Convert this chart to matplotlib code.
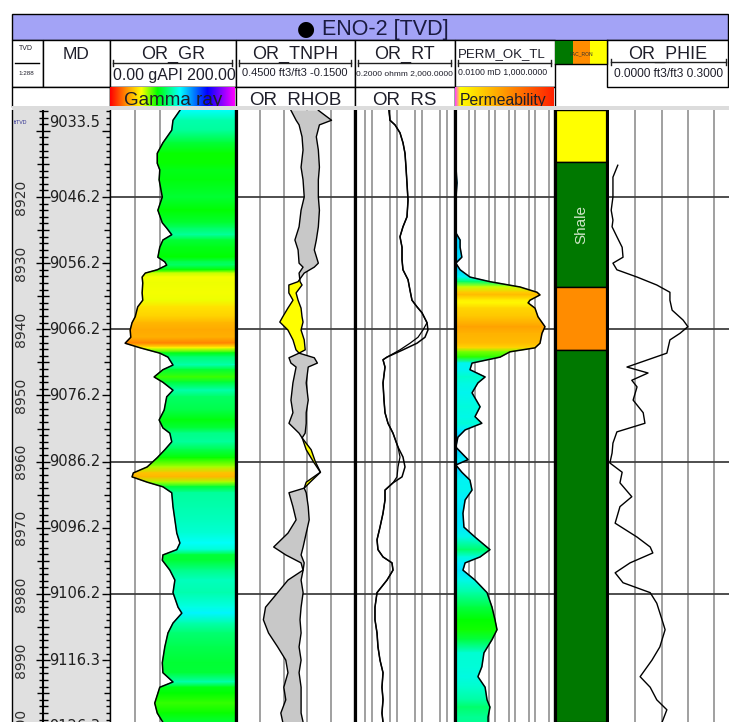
import numpy as np
import matplotlib
matplotlib.use("Agg")
import matplotlib.pyplot as plt
import matplotlib.tri as mtri
from matplotlib.colors import LinearSegmentedColormap
from matplotlib.patches import Rectangle

plt.rcParams["font.family"] = ["Liberation Sans", "DejaVu Sans"]

GR_DEPTH = [8906.9, 8908.4, 8909.9, 8911.8, 8913.4, 8914.9, 8915.9, 8917.4, 8920.0, 8922.0,
            8923.9, 8924.7, 8925.7, 8926.5, 8927.6, 8929.1, 8929.8, 8930.3, 8931.0, 8931.5,
            8932.1, 8933.0, 8934.5, 8935.6, 8936.6, 8938.1, 8939.0, 8940.1, 8941.2, 8942.1,
            8942.8, 8943.6, 8944.2, 8945.4, 8946.1, 8947.2, 8948.0, 8949.2, 8950.2, 8952.2,
            8953.7, 8954.9, 8955.7, 8957.0, 8958.2, 8959.4, 8960.8, 8961.7, 8962.3, 8963.1,
            8963.8, 8964.7, 8966.8, 8968.8, 8970.8, 8972.3, 8973.3, 8974.1, 8974.9, 8976.4,
            8977.9, 8979.8, 8982.0, 8982.9, 8984.4, 8985.9, 8988.0, 8990.4, 8991.9, 8993.3,
            8994.1, 8995.0, 8996.5, 8998.0, 8999.4]
GR_API = [111, 100, 98, 84, 75, 75, 79, 78, 83, 76,
          83, 90, 98, 84, 79, 76, 87, 90, 75, 56,
          51, 52, 51, 52, 44, 40, 35, 32, 33, 24,
          48, 79, 92, 100, 84, 70, 84, 100, 90, 86,
          78, 84, 95, 98, 87, 75, 59, 37, 35, 59,
          84, 98, 100, 103, 106, 111, 106, 84, 83, 95,
          103, 100, 108, 114, 100, 92, 87, 83, 84, 100,
          79, 76, 71, 75, 84]

ND_DEPTH = [8906.9, 8908.4, 8909.1, 8910.9, 8912.9, 8915.5, 8917.4, 8920.0, 8922.0, 8924.5,
            8926.5, 8928.0, 8930.0, 8930.6, 8931.5, 8932.8, 8933.3, 8934.5, 8935.6, 8936.8,
            8938.1, 8938.9, 8940.1, 8941.6, 8943.1, 8943.6, 8944.3, 8945.1, 8945.7, 8948.1,
            8950.7, 8952.6, 8954.2, 8955.7, 8956.4, 8958.2, 8960.0, 8961.6, 8963.1, 8964.0,
            8964.7, 8966.8, 8968.8, 8970.8, 8972.9, 8974.1, 8975.3, 8976.4, 8977.9, 8979.8,
            8982.0, 8983.9, 8985.9, 8988.0, 8990.0, 8991.9, 8994.1, 8996.0, 8998.0, 8999.4]
NPHI = [0.173, 0.147, 0.132, 0.117, 0.112, 0.122, 0.112, 0.106, 0.122, 0.132,
        0.153, 0.137, 0.132, 0.112, 0.132, 0.127, 0.117, 0.147, 0.137, 0.122,
        0.117, 0.112, 0.122, 0.106, 0.101, 0.132, 0.183, 0.173, 0.147, 0.163,
        0.173, 0.163, 0.183, 0.132, 0.117, 0.071, 0.050, 0.024, 0.076, 0.106,
        0.183, 0.163, 0.147, 0.188, 0.260, 0.199, 0.122, 0.112, 0.188, 0.240,
        0.301, 0.312, 0.286, 0.240, 0.199, 0.188, 0.209, 0.199, 0.224, 0.214]
RHOB = [2.642, 2.753, 2.651, 2.625, 2.642, 2.651, 2.642, 2.642, 2.651, 2.642,
        2.625, 2.608, 2.642, 2.608, 2.523, 2.471, 2.394, 2.394, 2.429, 2.386,
        2.343, 2.318, 2.386, 2.429, 2.454, 2.480, 2.608, 2.634, 2.557, 2.540,
        2.557, 2.540, 2.540, 2.531, 2.506, 2.540, 2.600, 2.659, 2.540, 2.523,
        2.540, 2.557, 2.565, 2.540, 2.514, 2.497, 2.523, 2.514, 2.497, 2.514,
        2.497, 2.488, 2.497, 2.480, 2.497, 2.480, 2.497, 2.497, 2.497, 2.514]

RES_DEPTH = [8906.9, 8908.4, 8909.1, 8910.3, 8911.8, 8913.4, 8915.5, 8917.9, 8920.5, 8923.0,
             8924.5, 8926.0, 8927.6, 8929.5, 8931.0, 8932.5, 8934.1, 8935.6, 8936.6, 8937.5,
             8939.0, 8940.1, 8941.2, 8942.1, 8943.1, 8944.2, 8944.6, 8945.7, 8948.1, 8950.7,
             8952.6, 8954.2, 8955.7, 8957.8, 8959.3, 8960.8, 8962.3, 8963.2, 8964.3, 8965.8,
             8967.8, 8969.9, 8971.8, 8973.3, 8974.4, 8975.3, 8976.4, 8977.9, 8979.8, 8982.0,
             8983.9, 8985.9, 8988.0, 8990.0, 8991.9, 8994.1, 8996.0, 8998.0, 8999.4]
RT = [4.58, 5.02, 7.96, 12.6, 16.6, 20.0, 21.9, 24.0, 26.4, 24.0,
      16.6, 12.6, 15.2, 15.2, 16.6, 26.4, 31.7, 38.1, 60.4, 95.7,
      152, 166, 126, 60.4, 16.6, 3.81, 2.64, 3.17, 2.64, 2.89,
      3.17, 4.18, 6.62, 10.5, 16.6, 20.0, 15.2, 6.62, 3.17, 3.17,
      2.64, 2.00, 1.52, 1.66, 2.64, 6.04, 6.62, 3.81, 1.52, 1.26,
      1.26, 1.52, 1.66, 2.00, 2.64, 2.40, 2.64, 2.40, 2.64]
RS = [4.58, 5.02, 7.96, 12.6, 16.6, 20.0, 21.9, 24.0, 26.4, 24.0,
      16.6, 12.6, 15.2, 15.2, 16.6, 26.4, 31.7, 38.1, 60.4, 95.7,
      152, 105, 66.2, 31.7, 12.6, 3.81, 2.64, 3.17, 2.64, 2.89,
      3.17, 4.18, 6.62, 10.5, 12.6, 10.5, 9.57, 6.62, 3.17, 3.17,
      2.64, 2.00, 1.52, 1.66, 2.64, 6.04, 6.62, 3.81, 1.52, 1.26,
      1.26, 1.52, 1.66, 2.00, 2.64, 2.40, 2.64, 2.40, 2.64]

PERM_DEPTH = [8915.2, 8917.9, 8920.5, 8925.4, 8926.5, 8927.6, 8929.1, 8930.0, 8931.0, 8932.1,
              8932.8, 8933.6, 8934.4, 8934.8, 8935.6, 8936.0, 8936.8, 8938.1, 8939.6, 8940.6,
              8942.1, 8942.8, 8943.4, 8944.2, 8945.1, 8946.1, 8947.2, 8948.1, 8949.6, 8951.7,
              8953.2, 8954.2, 8955.2, 8956.3, 8957.8, 8959.7, 8960.5, 8961.6, 8962.8, 8964.3,
              8965.8, 8967.8, 8969.9, 8971.4, 8973.3, 8974.4, 8975.3, 8976.4, 8977.9, 8979.8,
              8982.0, 8983.9, 8985.4, 8986.9, 8988.9, 8991.0, 8992.5, 8994.1, 8996.0, 8997.1,
              8998.6, 8999.4]
PERM_MD = [0.011, 0.0126, 0.011, 0.011, 0.018, 0.018, 0.022, 0.011, 0.018, 0.056,
           0.56, 17.8, 126, 178, 56, 45, 100, 141, 316, 224,
           178, 100, 5.6, 1.8, 0.071, 0.056, 0.32, 0.14, 0.071, 0.18,
           0.10, 0.22, 0.032, 0.014, 0.011, 0.045, 0.011, 0.022, 0.056, 0.071,
           0.032, 0.025, 0.028, 0.10, 0.56, 0.18, 0.032, 0.025, 0.10, 0.40,
           0.71, 1.0, 1.26, 0.71, 0.28, 0.22, 0.14, 0.32, 0.40, 0.56,
           0.45, 0.45]

PHIE_DEPTH = [8915.2, 8917.0, 8920.0, 8922.0, 8923.5, 8924.5, 8926.0, 8927.6, 8929.1, 8930.0,
              8931.0, 8932.1, 8933.3, 8934.4, 8935.6, 8937.1, 8938.6, 8939.6, 8940.6, 8941.6,
              8943.6, 8945.7, 8946.6, 8947.7, 8948.7, 8950.7, 8952.6, 8954.2, 8955.5, 8957.2,
              8958.7, 8960.2, 8961.6, 8963.2, 8965.3, 8966.8, 8969.3, 8971.4, 8972.9, 8973.8,
              8975.3, 8976.8, 8978.3, 8979.8, 8981.4, 8983.9, 8985.4, 8988.0, 8990.0, 8992.5,
              8994.1, 8996.0, 8997.5, 8999.4]
PHIE = [0.020, 0.009, 0.009, 0.005, 0.009, 0.007, 0.018, 0.030, 0.032, 0.009,
        0.018, 0.064, 0.109, 0.139, 0.139, 0.144, 0.169, 0.180, 0.162, 0.139,
        0.132, 0.041, 0.089, 0.052, 0.064, 0.055, 0.078, 0.082, 0.018, 0.009,
        0.007, 0.002, 0.030, 0.025, 0.052, 0.025, 0.014, 0.064, 0.094, 0.100,
        0.048, 0.014, 0.032, 0.094, 0.109, 0.121, 0.128, 0.116, 0.098, 0.071,
        0.094, 0.109, 0.132, 0.121]

FACIES_TOP = [8906.85, 8914.7, 8933.6, 8943.1]
FACIES_BASE = [8914.7, 8933.6, 8943.1, 8999.35]
FACIES_CODE = ["sand", "shale", "silt", "shale"]
FACIES_LABEL = ["", "Shale", "", ""]

TVD_LABELS = [8920, 8930, 8940, 8950, 8960, 8970, 8980, 8990, 9000]
MD_LABEL_TVD = [8908.8, 8920, 8930, 8940, 8950, 8960, 8970, 8980, 8990, 9000]
MD_LABELS = ["9033.5", "9046.2", "9056.2", "9066.2", "9076.2", "9086.2",
             "9096.2", "9106.2", "9116.3", "9126.3"]

GR_GRID = [40, 80, 120, 160]
NPHI_GRID = [0.33, 0.21, 0.09, -0.03]
RES_GRID = [0.5, 1, 5, 10, 50, 100, 500, 1000]
PERM_GRID = [0.05, 0.1, 0.5, 1, 5, 10, 50, 100, 500]
PHIE_GRID = [0.06, 0.12, 0.18, 0.24]

# ---- layout (pixels) ----
W, H = 729, 722
DATA_TOP, DATA_BASE = 110, 722
VIEW_TOP, VIEW_BASE = 8906.85, 8999.35
DEPTH_X = (12, 110)
GR_X = (110, 236)
ND_X = (236, 355)
RES_X = (355, 455)
PERM_X = (455, 555)
FAC_X = (555, 607)
PHIE_X = (609, 740.5)
THICK = 2.3
GRID_C = "#a0a0a0"
MAJOR_C = "#404040"
TXT_C = "#1e1e2a"

GR_CMAP = LinearSegmentedColormap.from_list(
    "gr", [(0, "#ff0000"), (0.13, "#ff9000"), (0.25, "#ffff00"), (0.38, "#00ff00"),
           (0.56, "#00ffff"), (0.78, "#0000ff"), (1.0, "#ff00ff")])
PERM_CMAP = LinearSegmentedColormap.from_list(
    "perm", [(0, "#00b4ff"), (0.1, "#00f0ff"), (0.3, "#00ffd0"), (0.4, "#00ff00"),
             (0.72, "#ffff00"), (0.92, "#ff9900"), (1.0, "#ff0000")])
PERM_HDR_CMAP = LinearSegmentedColormap.from_list(
    "permhdr", [(0, "#ff40ff"), (0.05, "#ffff00"), (0.5, "#ff9900"), (1.0, "#ff2000")])
FACIES_COLOR = {"sand": "#ffff00", "shale": "#007800", "silt": "#ff8c00"}


def track_axes(fig, xr, left=THICK, right=THICK):
    x0, x1 = xr
    ax = fig.add_axes([x0 / W, 1 - DATA_BASE / H, (x1 - x0) / W, (DATA_BASE - DATA_TOP) / H])
    ax.set_ylim(VIEW_BASE, VIEW_TOP)
    ax.set_xticks([])
    ax.set_yticks([])
    ax.spines[["top", "bottom"]].set_visible(False)
    for side, lw in (("left", left), ("right", right)):
        if lw:
            ax.spines[side].set_linewidth(lw)
        else:
            ax.spines[side].set_visible(False)
    return ax


def grid(ax, xs):
    for x in xs:
        ax.axvline(x, color=GRID_C, lw=1.4, zorder=0.3)
    for d in range(8920, 9000, 20):
        ax.axhline(d, color=MAJOR_C, lw=1.3, zorder=0.5)


def gradient_fill(ax, depth, xvals, edge, cvals, cmap, vmin, vmax):
    depth = np.asarray(depth, float)
    n = len(depth)
    x = np.concatenate([xvals, np.full(n, edge)])
    y = np.concatenate([depth, depth])
    c = np.concatenate([cvals, cvals])
    tris = []
    for i in range(n - 1):
        tris.append([i, i + 1, n + i])
        tris.append([i + 1, n + i + 1, n + i])
    tri = mtri.Triangulation(x, y, tris)
    ax.tripcolor(tri, c, shading="gouraud", cmap=cmap, vmin=vmin, vmax=vmax, zorder=1)


def draw_depth(fig):
    ax = track_axes(fig, DEPTH_X, left=1.0, right=1.0)
    ax.set_facecolor("#e0e0e0")
    ax.set_xlim(*DEPTH_X)
    ruler = 43
    ax.axvline(ruler, color="black", lw=1.5)
    ds = np.arange(8906, 9001)
    half = np.where(ds % 10 == 0, 7, np.where(ds % 5 == 0, 6, 4.5))
    ax.hlines(ds, ruler - half, ruler + half, color="black", lw=1.0)
    right = np.where(ds % 10 == 0, 8, np.where(ds % 5 == 0, 6, 4))
    ax.hlines(ds, DEPTH_X[1] - right, DEPTH_X[1], color="black", lw=1.0)
    for d in TVD_LABELS:
        ax.text(21, d, str(d), rotation=90, ha="center", va="center", fontsize=10,
                family="DejaVu Sans", color="#303030", clip_on=True)
    for d, lab in zip(MD_LABEL_TVD, MD_LABELS):
        ax.text(49, d, lab, ha="left", va="center", fontsize=10.5, family="DejaVu Sans",
                color="#202020", clip_on=True)
    ax.text(21, 8908.8, "ftTVD", ha="center", va="center", fontsize=3.8, color="#303090")


def draw_tracks(fig):
    # gamma ray
    ax = track_axes(fig, GR_X, left=1.0)
    ax.set_xlim(0, 200)
    grid(ax, GR_GRID)
    gradient_fill(ax, GR_DEPTH, GR_API, 200, GR_API, GR_CMAP, 0, 200)
    ax.plot(GR_API, GR_DEPTH, color="black", lw=1.1, zorder=3)

    # neutron / density
    ax = track_axes(fig, ND_X)
    ax.set_xlim(0.45, -0.15)
    grid(ax, NPHI_GRID)
    nphi = np.array(NPHI)
    rhob_eq = 0.45 + (np.array(RHOB) - 1.95) / 1.0 * (-0.15 - 0.45)
    ax.fill_betweenx(ND_DEPTH, nphi, rhob_eq, where=nphi >= rhob_eq, interpolate=True,
                     color="#c8c8c8", lw=0, zorder=1)
    ax.fill_betweenx(ND_DEPTH, nphi, rhob_eq, where=nphi < rhob_eq, interpolate=True,
                     color="#ffff00", lw=0, zorder=1)
    ax.plot(nphi, ND_DEPTH, color="black", lw=1.0, zorder=3)
    ax.plot(rhob_eq, ND_DEPTH, color="black", lw=1.0, zorder=3)

    # resistivity
    ax = track_axes(fig, RES_X)
    ax.set_xscale("log")
    ax.set_xlim(0.2, 2000)
    ax.set_xticks([])
    ax.minorticks_off()
    grid(ax, RES_GRID)
    ax.plot(RS, RES_DEPTH, color="black", lw=0.9, zorder=3)
    ax.plot(RT, RES_DEPTH, color="black", lw=1.1, zorder=3)

    # permeability (log10 mD on a linear track)
    ax = track_axes(fig, PERM_X)
    ax.set_xlim(-2, 3)
    grid(ax, np.log10(PERM_GRID))
    lp = np.log10(PERM_MD)
    gradient_fill(ax, PERM_DEPTH, lp, -2, lp, PERM_CMAP, -2, 3)
    ax.plot(lp, PERM_DEPTH, color="black", lw=1.1, zorder=3)

    # facies
    ax = track_axes(fig, FAC_X)
    ax.set_xlim(0, 1)
    for top, base, code, lab in zip(FACIES_TOP, FACIES_BASE, FACIES_CODE, FACIES_LABEL):
        ax.bar(0.5, base - top, bottom=top, width=1.0, color=FACIES_COLOR[code],
               edgecolor="black", lw=1.0, zorder=1)
        if lab:
            ax.text(0.5, (top + base) / 2, lab, rotation=90, ha="center", va="center",
                    fontsize=11, color="#cfe6c8", zorder=2)

    # effective porosity
    ax = track_axes(fig, PHIE_X, left=0, right=0)
    ax.set_xlim(0, 0.3)
    grid(ax, PHIE_GRID)
    ax.plot(PHIE, PHIE_DEPTH, color="black", lw=1.0, zorder=3)


def hbox(hd, x0, x1, y0, y1, fc="white", lw=1.0, z=1):
    hd.add_patch(Rectangle((x0, y0), x1 - x0, y1 - y0, facecolor=fc, edgecolor="black",
                           lw=lw, zorder=z))


def scale_bar(hd, x0, x1, y=63):
    hd.plot([x0, x1], [y, y], color="#202020", lw=1.0, zorder=3)
    hd.plot([x0, x0], [y - 3, y + 3], color="#202020", lw=1.0, zorder=3)
    hd.plot([x1, x1], [y - 3, y + 3], color="#202020", lw=1.0, zorder=3)


def draw_header(fig):
    hd = fig.add_axes([0, 0, 1, 1], zorder=5)
    hd.axis("off")

    hbox(hd, 12, 728, 14, 40, fc="#a3a3f6")
    hd.text(306, 35, "\u25cf", ha="center", va="baseline", fontsize=15, color="black",
            family=["DejaVu Sans"])
    hd.text(322, 35, "ENO-2 [TVD]", ha="left", va="baseline", fontsize=15.5, color="#1a1a40")

    for x0, x1 in [(12, 43), (43, 110), (110, 236), (236, 355), (355, 455), (455, 555), (607, 728)]:
        hbox(hd, x0, x1, 40, 87)
    for x0, x1 in [(12, 110), (110, 236), (236, 355), (355, 455), (455, 555)]:
        hbox(hd, x0, x1, 87, 107)

    grad = np.linspace(0, 1, 256)[None, :]
    hd.imshow(grad, extent=(110.5, 235.5, 106.5, 87.5), cmap=GR_CMAP, aspect="auto", zorder=2)
    hd.imshow(grad, extent=(455.5, 554.5, 106.5, 87.5), cmap=PERM_HDR_CMAP, aspect="auto", zorder=2)

    # facies mini legend
    for (x0, x1), col in zip([(555, 573), (573, 590), (590, 607)],
                             [FACIES_COLOR["shale"], FACIES_COLOR["silt"], FACIES_COLOR["sand"]]):
        hd.add_patch(Rectangle((x0, 41), x1 - x0, 23, facecolor=col, lw=0, zorder=2))
    hd.plot([555, 607, 607], [64, 64, 40], color="black", lw=1.0, zorder=3)
    hd.text(581, 54, "FAC_RON", ha="center", va="center", fontsize=3.6, color="#303030", zorder=4)

    # TVD scale cell
    hd.text(26, 50, "TVD", ha="center", va="baseline", fontsize=5, color=TXT_C)
    hd.plot([15, 39], [63, 63], color="black", lw=1.0)
    hd.text(26, 75, "1:288", ha="center", va="baseline", fontsize=4.5, color=TXT_C)

    hd.text(76, 59, "MD", ha="center", va="baseline", fontsize=12.5, color=TXT_C)
    titles = [(173, "OR_GR"), (295, "OR_TNPH"), (404, "OR_RT"), (668, "OR_PHIE")]
    for x, t in titles:
        hd.text(x, 59, t, ha="center", va="baseline", fontsize=13, color=TXT_C)
    hd.text(458, 57, "PERM_OK_TL", ha="left", va="baseline", fontsize=9.5, color=TXT_C)

    scale_bar(hd, 113, 232)
    scale_bar(hd, 239, 351)
    scale_bar(hd, 358, 451)
    scale_bar(hd, 458, 551)
    scale_bar(hd, 611, 726, y=62)
    hd.text(174, 80, "0.00 gAPI 200.00", ha="center", va="baseline", fontsize=11.4, color=TXT_C)
    hd.text(295, 76, "0.4500 ft3/ft3 -0.1500", ha="center", va="baseline", fontsize=8, color=TXT_C)
    hd.text(404, 75, "0.2000 ohmm 2,000.0000", ha="center", va="baseline", fontsize=6, color=TXT_C)
    hd.text(458, 75, "0.0100 mD 1,000.0000", ha="left", va="baseline", fontsize=6.3, color=TXT_C)
    hd.text(669, 77, "0.0000 ft3/ft3 0.3000", ha="center", va="baseline", fontsize=8.6, color=TXT_C)

    hd.text(173, 105, "Gamma ray", ha="center", va="baseline", fontsize=13.5, color=TXT_C, zorder=3)
    hd.text(295, 105, "OR_RHOB", ha="center", va="baseline", fontsize=13.5, color=TXT_C, zorder=3)
    hd.text(404, 105, "OR_RS", ha="center", va="baseline", fontsize=13.5, color=TXT_C, zorder=3)
    hd.text(503, 105, "Permeability", ha="center", va="baseline", fontsize=11.3, color=TXT_C, zorder=3)

    hd.add_patch(Rectangle((12, 106), 717, 4, facecolor="#dcdcdc", lw=0, zorder=6))

    hd.set_xlim(0, W)
    hd.set_ylim(H, 0)


if __name__ == "__main__":
    fig = plt.figure(figsize=(W / 100, H / 100), dpi=100)
    draw_depth(fig)
    draw_tracks(fig)
    draw_header(fig)
    fig.savefig("out.png", dpi=100, facecolor="white")
    plt.close(fig)
